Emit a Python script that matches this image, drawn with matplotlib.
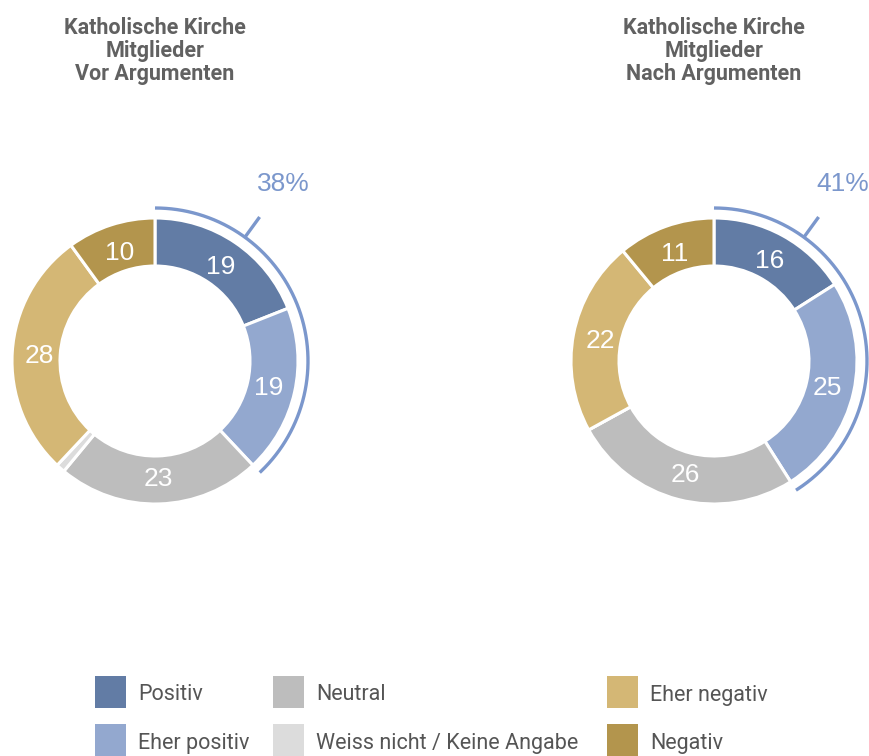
import numpy as np
import matplotlib
matplotlib.use("Agg")
import matplotlib.pyplot as plt
from matplotlib.patches import Rectangle

# ---- data ----
categories = ["Positiv", "Eher positiv", "Neutral", "Weiss nicht / Keine Angabe",
              "Eher negativ", "Negativ"]
colors = ["#627ca5", "#93a8cf", "#bdbdbd", "#dcdcdc", "#d4b775", "#b3954d"]
titles = ["Katholische Kirche\nMitglieder\nVor Argumenten",
          "Katholische Kirche\nMitglieder\nNach Argumenten"]
vor_values = [19, 19, 23, 1, 28, 10]
nach_values = [16, 25, 26, 0, 22, 11]
positive_share = [38, 41]

# ---- layout (pixels) ----
W, H = 870, 756
fig = plt.figure(figsize=(W / 100, H / 100), dpi=100)
ax = fig.add_axes([0, 0, 1, 1])

centers = [(155, H - 361), (714, H - 361)]
R_OUT, R_IN = 143, 95
bracket_color = "#7b97cc"
title_font = ["Roboto", "DejaVu Sans"]
legend_font = ["Roboto", "DejaVu Sans"]
num_font = ["Liberation Sans", "DejaVu Sans"]

for values, (cx, cy), title, share in zip([vor_values, nach_values], centers,
                                           titles, positive_share):
    wedges, _ = ax.pie(values, colors=colors, startangle=90, counterclock=False,
                       center=(cx, cy), radius=R_OUT,
                       wedgeprops=dict(width=R_OUT - R_IN, edgecolor="white",
                                       linewidth=2.2))
    # value labels
    total = sum(values)
    cum = 0
    r_lab = 116
    for v in values:
        mid = 90 - (cum + v / 2) / total * 360
        cum += v
        if v >= 5:
            a = np.deg2rad(mid)
            ax.text(cx + r_lab * np.cos(a), cy + r_lab * np.sin(a) - 2, str(v),
                    ha="center", va="center", color="white", fontsize=19,
                    family=num_font)
    # bracket arc for positive share
    r_arc = 153
    th = np.deg2rad(np.linspace(90, 90 - share / 100 * 360, 200))
    ax.plot(cx + r_arc * np.cos(th), cy + r_arc * np.sin(th),
            color=bracket_color, lw=2.4, solid_capstyle="butt")
    ta = np.deg2rad(90 - 36)
    ax.plot([cx + r_arc * np.cos(ta), cx + 178 * np.cos(ta)],
            [cy + r_arc * np.sin(ta), cy + 178 * np.sin(ta)],
            color=bracket_color, lw=2.4, solid_capstyle="butt")
    ax.text(cx + 219 * np.cos(ta), cy + 219 * np.sin(ta), f"{share}%",
            ha="center", va="center", color=bracket_color, fontsize=19,
            family=num_font)
    # title
    ax.text(cx, H - 51, title, ha="center", va="center", color="#616161",
            fontsize=15.5, fontweight="bold", family=title_font,
            linespacing=1.08)

# ---- legend ----
legend_pos = [(95, 676), (95, 724), (273, 676), (273, 724), (607, 676), (607, 724)]
for cat, col, (lx, ly) in zip(categories, colors, legend_pos):
    ax.add_patch(Rectangle((lx, H - ly - 32), 31, 32, facecolor=col,
                           edgecolor="none"))
    ax.text(lx + 43, H - ly - 19, cat, ha="left", va="center", color="#555555",
            fontsize=15.5, family=legend_font)

ax.set_xlim(0, W)
ax.set_ylim(0, H)
ax.set_aspect("auto")
ax.axis("off")
fig.savefig("out.png", dpi=100)
